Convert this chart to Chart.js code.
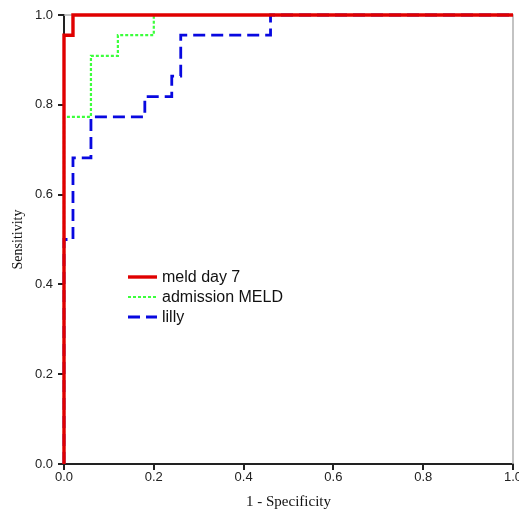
<!DOCTYPE html>
<html>
<head>
<meta charset="utf-8">
<script src="https://cdn.jsdelivr.net/npm/chart.js@4"></script>
<style>
  html, body { margin: 0; padding: 0; background: #fff; }
  #box { width: 519px; height: 521px; }
</style>
</head>
<body>
<div id="box"><canvas id="Chart"></canvas></div>
<script>
// ROC curves (x = 1 - specificity, y = sensitivity)
let seriesNames = ['meld day 7', 'admission MELD', 'lilly'];

let meldDay7X = [0, 0, 0.02, 0.02, 1];
let meldDay7Y = [0, 0.955, 0.955, 1, 1];

let admissionX = [0, 0, 0.06, 0.06, 0.12, 0.12, 0.20, 0.20, 1];
let admissionY = [0, 0.773, 0.773, 0.909, 0.909, 0.955, 0.955, 1, 1];

let lillyX = [0, 0, 0.02, 0.02, 0.06, 0.06, 0.18, 0.18, 0.24, 0.24, 0.26, 0.26, 0.46, 0.46, 1];
let lillyY = [0, 0.5, 0.5, 0.682, 0.682, 0.773, 0.773, 0.818, 0.818, 0.864, 0.864, 0.955, 0.955, 1, 1];

let tickValues = [0, 0.2, 0.4, 0.6, 0.8, 1.0];

function toPoints(xs, ys) {
    return xs.map((x, i) => ({ x: x, y: ys[i] }));
}

// draws the plot frame (gray top/right) and the legend box inside the plot
let framePlugin = {
    id: 'frame',
    beforeDatasetsDraw(chart) {
        let a = chart.chartArea;
        let c = chart.ctx;
        c.save();
        c.strokeStyle = '#b0b0b0';
        c.lineWidth = 1.5;
        c.beginPath();
        c.moveTo(a.left, a.top);
        c.lineTo(a.right, a.top);
        c.lineTo(a.right, a.bottom);
        c.stroke();
        c.restore();
    },
    afterDraw(chart) {
        let c = chart.ctx;
        let order = [0, 2, 1]; // legend order: meld day 7, admission MELD, lilly
        c.save();
        c.font = '16px "Liberation Sans", Arial, sans-serif';
        c.textBaseline = 'middle';
        order.forEach((dsIndex, row) => {
            let ds = chart.data.datasets[dsIndex];
            let y = 277 + row * 20;
            c.strokeStyle = ds.borderColor;
            c.lineWidth = ds.borderWidth;
            c.setLineDash(ds.borderDash || []);
            c.beginPath();
            c.moveTo(128, y);
            c.lineTo(157, y);
            c.stroke();
            c.setLineDash([]);
            c.fillStyle = '#111';
            c.fillText(ds.label, 162, y + 1);
        });
        c.restore();
    }
};

let ctx = document.getElementById('Chart').getContext('2d');

new Chart(ctx, {
    type: 'scatter',
    data: {
        datasets: [
            {
                label: seriesNames[0],
                data: toPoints(meldDay7X, meldDay7Y),
                showLine: true,
                borderColor: '#e00000',
                borderWidth: 3.4,
                pointRadius: 0,
                tension: 0,
                clip: false,
                order: 1
            },
            {
                label: seriesNames[2],
                data: toPoints(lillyX, lillyY),
                showLine: true,
                borderColor: '#0808e0',
                borderWidth: 2.8,
                borderDash: [12, 6],
                pointRadius: 0,
                tension: 0,
                clip: false,
                order: 2
            },
            {
                label: seriesNames[1],
                data: toPoints(admissionX, admissionY),
                showLine: true,
                borderColor: '#3cff3c',
                borderWidth: 2.2,
                borderDash: [3, 2],
                pointRadius: 0,
                tension: 0,
                clip: false,
                order: 3
            }
        ]
    },
    options: {
        responsive: true,
        maintainAspectRatio: false,
        animation: false,
        layout: { padding: { top: 15, right: 6, left: 0, bottom: 0 } },
        plugins: {
            legend: { display: false },
            tooltip: { enabled: false }
        },
        scales: {
            x: {
                type: 'linear',
                min: 0,
                max: 1,
                afterFit(scale) {
                    scale.height = 57;
                    scale.paddingLeft = 0;
                    scale.paddingRight = 0;
                },
                afterBuildTicks(scale) { scale.ticks = tickValues.map(v => ({ value: v })); },
                ticks: {
                    callback: v => v.toFixed(1),
                    color: '#222',
                    font: { family: '"Liberation Sans", Arial, sans-serif', size: 13 },
                    padding: 0,
                    maxRotation: 0
                },
                grid: {
                    drawOnChartArea: false,
                    drawTicks: true,
                    tickLength: 6,
                    color: '#222',
                    lineWidth: 2
                },
                border: { display: true, color: '#222', width: 2 },
                title: {
                    display: true,
                    text: '1 - Specificity',
                    color: '#111',
                    font: { family: '"Liberation Serif", "Times New Roman", serif', size: 15 },
                    padding: { top: 0, bottom: 10 }
                }
            },
            y: {
                type: 'linear',
                min: 0,
                max: 1,
                afterFit(scale) { scale.width = 64; },
                afterBuildTicks(scale) { scale.ticks = tickValues.map(v => ({ value: v })); },
                ticks: {
                    callback: v => v.toFixed(1),
                    color: '#222',
                    font: { family: '"Liberation Sans", Arial, sans-serif', size: 13 },
                    padding: 5
                },
                grid: {
                    drawOnChartArea: false,
                    drawTicks: true,
                    tickLength: 6,
                    color: '#222',
                    lineWidth: 2
                },
                border: { display: true, color: '#222', width: 2 },
                title: {
                    display: true,
                    text: 'Sensitivity',
                    color: '#111',
                    font: { family: '"Liberation Serif", "Times New Roman", serif', size: 14 },
                    padding: { top: 10, bottom: 0 }
                }
            }
        }
    },
    plugins: [framePlugin]
});
</script>
</body>
</html>
